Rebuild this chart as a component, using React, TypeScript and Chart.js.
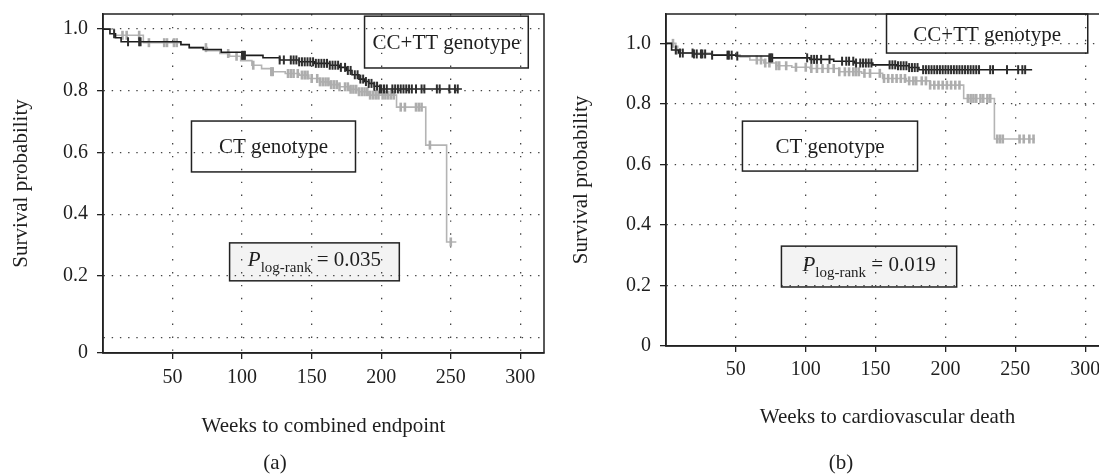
import React, { useEffect, useRef } from "react";
import { Chart, registerables } from "chart.js";

Chart.register(...registerables);

const FONT = "'Liberation Serif', 'Times New Roman', serif";
const TICK_SIZE = 20;
const TEXT_SIZE = 21;

// ---------- Panel (a): weeks to combined endpoint ----------
const aCCTTTimes = [0, 5, 9, 13, 56, 62, 72, 85, 100, 115, 127, 141, 152, 163, 170, 175, 179, 184, 188, 191, 195, 199, 258];
const aCCTTSurv = [1, 0.985, 0.972, 0.959, 0.95, 0.94, 0.934, 0.925, 0.915, 0.907, 0.9, 0.894, 0.889, 0.883, 0.876, 0.866, 0.852, 0.838, 0.83, 0.824, 0.815, 0.806, 0.806];
const aCCTTCensor = [8, 18, 26, 27, 100, 101, 102, 127, 130, 135, 137, 139, 141, 143, 145, 147, 149, 151, 153, 155, 157, 159, 161, 163, 165, 167, 169, 171, 174, 176, 178, 181, 183, 185, 187, 189, 191, 193, 195, 197, 199, 200, 202, 204, 208, 210, 212, 214, 216, 218, 220, 222, 225, 229, 231, 240, 242, 249, 253, 255];

const aCTTimes = [0, 8, 29, 56, 62, 75, 84, 91, 99, 107, 114, 121, 131, 141, 148, 156, 163, 170, 177, 184, 191, 211, 232, 247, 254];
const aCTSurv = [1, 0.98, 0.956, 0.948, 0.94, 0.93, 0.921, 0.912, 0.898, 0.883, 0.872, 0.862, 0.856, 0.851, 0.84, 0.829, 0.82, 0.813, 0.805, 0.797, 0.786, 0.747, 0.624, 0.31, 0.31];
const aCTCensor = [14, 17, 26, 33, 44, 46, 51, 53, 74, 90, 96, 108, 121, 122, 133, 135, 137, 140, 143, 145, 147, 150, 154, 156, 158, 160, 162, 164, 166, 168, 170, 174, 176, 178, 180, 182, 184, 186, 188, 190, 192, 194, 196, 198, 201, 203, 205, 207, 209, 214, 217, 225, 227, 229, 235, 250];

// ---------- Panel (b): weeks to cardiovascular death ----------
const bCCTTTimes = [0, 4, 9, 20, 33, 50, 74, 103, 120, 135, 148, 165, 174, 181, 262];
const bCCTTSurv = [1, 0.978, 0.968, 0.965, 0.961, 0.958, 0.952, 0.947, 0.941, 0.935, 0.929, 0.926, 0.92, 0.913, 0.913];
const bCCTTCensor = [7, 10, 12, 19, 20, 22, 25, 26, 28, 33, 44, 45, 47, 51, 74, 75, 76, 101, 104, 106, 108, 111, 117, 126, 129, 131, 134, 136, 139, 141, 143, 145, 147, 160, 162, 164, 166, 168, 170, 172, 174, 176, 178, 180, 184, 186, 188, 190, 192, 194, 196, 198, 200, 202, 204, 206, 208, 210, 212, 214, 216, 218, 220, 222, 224, 232, 234, 244, 252, 255, 257];

const bCTTimes = [0, 7, 12, 33, 53, 60, 70, 79, 90, 103, 124, 140, 155, 172, 189, 213, 235, 264];
const bCTSurv = [1, 0.978, 0.968, 0.961, 0.955, 0.945, 0.935, 0.926, 0.921, 0.917, 0.906, 0.901, 0.884, 0.876, 0.862, 0.818, 0.684, 0.684];
const bCTCensor = [5, 8, 65, 68, 71, 74, 79, 81, 86, 93, 100, 104, 108, 112, 116, 120, 124, 128, 131, 134, 136, 138, 142, 146, 153, 156, 159, 162, 165, 168, 171, 174, 177, 179, 183, 186, 189, 192, 195, 198, 201, 204, 207, 210, 216, 218, 220, 222, 225, 227, 230, 232, 237, 239, 241, 253, 256, 260, 263];

// ---------- Axes ----------
const xTickValues = [50, 100, 150, 200, 250, 300];
const yTickValuesA = [-0.05, 0, 0.2, 0.4, 0.6, 0.8, 1.0];
const yTickLabelsA = ["0", "", "0.2", "0.4", "0.6", "0.8", "1.0"];
const yTickValuesB = [0, 0.2, 0.4, 0.6, 0.8, 1.0];
const yTickLabelsB = ["0", "0.2", "0.4", "0.6", "0.8", "1.0"];

const BLACK_LINE = "#1c1c1c";
const BLACK_MARK = "#2e2e2e";
const GRAY_LINE = "#b4b4b4";
const GRAY_MARK = "#adadad";
const GRID = "#444444";
const AXIS = "#222222";
const TEXT = "#1e1e1e";

type Box = { x0: number; x1: number; y0: number; y1: number; kind: "text" | "p"; text: string; fill?: string };

type PanelProps = {
  left: number;
  ccttT: number[]; ccttS: number[]; ccttC: number[];
  ctT: number[]; ctS: number[]; ctC: number[];
  yTicks: number[]; yLabels: string[]; yMin: number; yMax: number;
  noTickMarkValue: number | null;
  xTitle: string; caption: string; captionX: number; captionY: number;
  padRight: number; yWidth: number; xHeight: number; xTitlePad: number; xTickPad: number;
  boxes: Box[];
};

function survAt(times: number[], surv: number[], t: number): number {
  let s = surv[0];
  for (let i = 0; i < times.length; i++) {
    if (times[i] <= t) s = surv[i];
    else break;
  }
  return s;
}

function Panel(p: PanelProps) {
  const ref = useRef<HTMLCanvasElement | null>(null);
  useEffect(() => {
    const canvas = ref.current;
    if (!canvas) return;
    const tickFont = { family: FONT, size: TICK_SIZE };
    const titleFont = { family: FONT, size: TEXT_SIZE };

    const annot = {
      id: "annot",
      beforeDraw(chart: any) {
        const ctx = chart.ctx;
        const xs = chart.scales.x;
        const ys = chart.scales.y;
        ctx.save();
        for (const b of p.boxes) {
          if (!b.fill) continue;
          const x0 = xs.getPixelForValue(b.x0), x1 = xs.getPixelForValue(b.x1);
          const y0 = ys.getPixelForValue(b.y0), y1 = ys.getPixelForValue(b.y1);
          ctx.fillStyle = b.fill;
          ctx.fillRect(x0, y0, x1 - x0, y1 - y0);
        }
        ctx.restore();
      },
      afterDraw(chart: any) {
        const ctx = chart.ctx;
        const a = chart.chartArea;
        const xs = chart.scales.x;
        const ys = chart.scales.y;
        ctx.save();
        ctx.strokeStyle = AXIS;
        ctx.lineWidth = 1.5;
        ctx.strokeRect(a.left, a.top, a.right - a.left, a.bottom - a.top);
        for (const b of p.boxes) {
          const x0 = xs.getPixelForValue(b.x0), x1 = xs.getPixelForValue(b.x1);
          const y0 = ys.getPixelForValue(b.y0), y1 = ys.getPixelForValue(b.y1);
          ctx.strokeStyle = AXIS;
          ctx.lineWidth = 1.5;
          ctx.strokeRect(x0, y0, x1 - x0, y1 - y0);
          const cx = (x0 + x1) / 2;
          const cy = (y0 + y1) / 2;
          ctx.fillStyle = TEXT;
          ctx.textBaseline = "alphabetic";
          if (b.kind === "text") {
            ctx.font = `${TEXT_SIZE}px ${FONT}`;
            ctx.textAlign = "center";
            ctx.fillText(b.text, cx, cy + 7);
          } else {
            ctx.textAlign = "left";
            const f1 = `italic ${TEXT_SIZE}px ${FONT}`;
            const f2 = `15px ${FONT}`;
            const f3 = `${TEXT_SIZE}px ${FONT}`;
            ctx.font = f1; const w1 = ctx.measureText("P").width;
            ctx.font = f2; const w2 = ctx.measureText("log-rank").width;
            ctx.font = f3; const w3 = ctx.measureText(" = " + b.text).width;
            let x = cx - (w1 + w2 + w3) / 2;
            const base = cy + 4;
            ctx.font = f1; ctx.fillText("P", x, base); x += w1;
            ctx.font = f2; ctx.fillText("log-rank", x, base + 6); x += w2;
            ctx.font = f3; ctx.fillText(" = " + b.text, x, base);
          }
        }
        ctx.font = `${TEXT_SIZE}px ${FONT}`;
        ctx.textAlign = "center";
        ctx.textBaseline = "middle";
        ctx.fillStyle = TEXT;
        ctx.fillText(p.caption, p.captionX, p.captionY);
        ctx.restore();
      },
    };

    const lineDs = (t: number[], s: number[], color: string, order: number) => ({
      type: "line" as const,
      data: t.map((v, i) => ({ x: v, y: s[i] })),
      borderColor: color,
      borderWidth: 1.6,
      stepped: "before" as const,
      pointRadius: 0,
      fill: false,
      order,
    });
    const censorDs = (c: number[], t: number[], s: number[], color: string, w: number, order: number) => ({
      type: "scatter" as const,
      data: c.map((v) => ({ x: v, y: survAt(t, s, v) })),
      pointStyle: "line" as const,
      rotation: 90,
      pointRadius: 4.5,
      pointBorderWidth: w,
      borderWidth: w,
      pointBorderColor: color,
      borderColor: color,
      backgroundColor: color,
      showLine: false,
      order,
    });

    const chart = new Chart(canvas, {
      type: "line",
      data: {
        datasets: [
          lineDs(p.ctT, p.ctS, GRAY_LINE, 4),
          censorDs(p.ctC, p.ctT, p.ctS, GRAY_MARK, 2.6, 3),
          lineDs(p.ccttT, p.ccttS, BLACK_LINE, 2),
          censorDs(p.ccttC, p.ccttT, p.ccttS, BLACK_MARK, 2, 1),
        ] as any,
      },
      options: {
        animation: false,
        responsive: false,
        devicePixelRatio: 1,
        layout: { padding: { top: 14, right: p.padRight, left: 0, bottom: 0 } },
        plugins: { legend: { display: false }, tooltip: { enabled: false } },
        scales: {
          x: {
            type: "linear",
            min: 0,
            max: 317,
            afterBuildTicks: (s: any) => {
              s.ticks = xTickValues.map((v) => ({ value: v }));
            },
            afterFit: (s: any) => {
              s.height = p.xHeight;
              s.paddingLeft = 0;
              s.paddingRight = 0;
            },
            ticks: {
              autoSkip: false,
              maxRotation: 0,
              padding: p.xTickPad,
              color: TEXT,
              font: tickFont,
              callback: (v: any) => String(v),
            },
            grid: { color: GRID, lineWidth: 1.3, tickLength: 6, tickColor: AXIS, tickWidth: 1.3 },
            border: { display: true, color: AXIS, width: 1.5, dash: [1.4, 11.5] },
            title: { display: true, text: p.xTitle, color: TEXT, font: titleFont, padding: { top: 0, bottom: p.xTitlePad } },
          },
          y: {
            type: "linear",
            min: p.yMin,
            max: p.yMax,
            afterBuildTicks: (s: any) => {
              s.ticks = p.yTicks.map((v) => ({ value: v }));
            },
            afterFit: (s: any) => {
              s.width = p.yWidth;
              s.paddingTop = 0;
              s.paddingBottom = 0;
            },
            ticks: {
              autoSkip: false,
              padding: 9,
              color: TEXT,
              font: tickFont,
              callback: (v: any) => {
                const i = p.yTicks.findIndex((t) => Math.abs(t - Number(v)) < 1e-9);
                return i >= 0 ? p.yLabels[i] : "";
              },
            },
            grid: {
              color: (c: any) => (c.tick && c.tick.value <= p.yMin + 1e-9 ? "rgba(0,0,0,0)" : GRID),
              lineWidth: 1.3,
              tickLength: 6,
              tickWidth: 1.3,
              tickColor: (c: any) => (p.noTickMarkValue !== null && c.tick && Math.abs(c.tick.value - p.noTickMarkValue) < 1e-9 ? "rgba(0,0,0,0)" : AXIS),
            },
            border: { display: true, color: AXIS, width: 1.5, dash: [1.4, 6.8] },
            title: { display: true, text: "Survival probability", color: TEXT, font: titleFont, padding: { top: 9, bottom: 0 } },
          },
        },
      } as any,
      plugins: [annot as any],
    });
    return () => chart.destroy();
  }, []);
  return (
    <canvas
      ref={ref}
      width={560}
      height={474}
      style={{ position: "absolute", left: p.left, top: 0, width: 560, height: 474 }}
    />
  );
}

export default function App() {
  return (
    <div style={{ position: "fixed", left: 0, top: 0, width: 1099, height: 474, overflow: "hidden", background: "#ffffff" }}>
      <Panel
        left={0}
        ccttT={aCCTTTimes} ccttS={aCCTTSurv} ccttC={aCCTTCensor}
        ctT={aCTTimes} ctS={aCTSurv} ctC={aCTCensor}
        yTicks={yTickValuesA} yLabels={yTickLabelsA} yMin={-0.05} yMax={1.049}
        noTickMarkValue={0}
        xTitle="Weeks to combined endpoint" caption="(a)" captionX={275} captionY={463}
        padRight={16} yWidth={103} xHeight={121} xTitlePad={35} xTickPad={7}
        boxes={[
          { x0: 188, x1: 305.7, y0: 1.042, y1: 0.874, kind: "text", text: "CC+TT genotype" },
          { x0: 63.6, x1: 181.5, y0: 0.702, y1: 0.537, kind: "text", text: "CT genotype" },
          { x0: 91, x1: 213, y0: 0.307, y1: 0.184, kind: "p", text: "0.035", fill: "#f3f3f3" },
        ]}
      />
      <Panel
        left={560}
        ccttT={bCCTTTimes} ccttS={bCCTTSurv} ccttC={bCCTTCensor}
        ctT={bCTTimes} ctS={bCTSurv} ctC={bCTCensor}
        yTicks={yTickValuesB} yLabels={yTickLabelsB} yMin={0} yMax={1.097}
        noTickMarkValue={null}
        xTitle="Weeks to cardiovascular death" caption="(b)" captionX={281} captionY={463}
        padRight={11} yWidth={106} xHeight={128} xTitlePad={44} xTickPad={6}
        boxes={[
          { x0: 157.8, x1: 301.8, y0: 1.097, y1: 0.968, kind: "text", text: "CC+TT genotype" },
          { x0: 54.7, x1: 180, y0: 0.743, y1: 0.578, kind: "text", text: "CT genotype" },
          { x0: 82.6, x1: 208, y0: 0.33, y1: 0.195, kind: "p", text: "0.019", fill: "#f3f3f3" },
        ]}
      />
    </div>
  );
}
